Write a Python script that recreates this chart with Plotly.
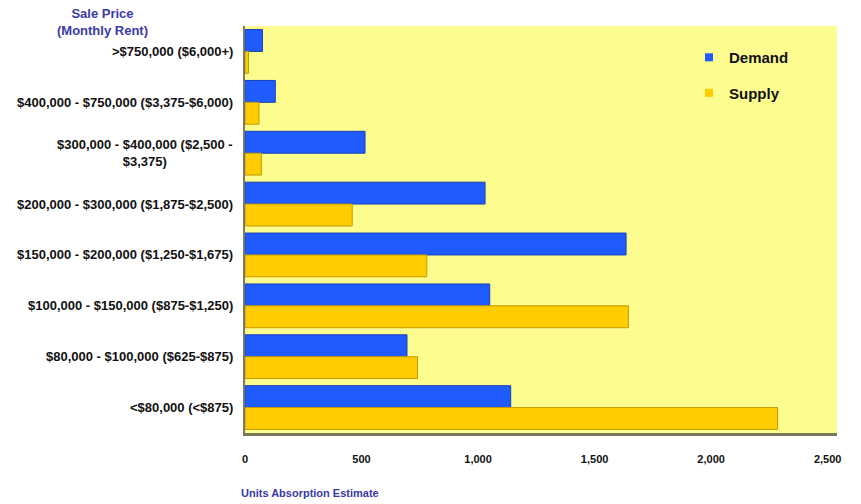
import plotly.graph_objects as go

# Price bands, top to bottom
categories = [
    ">$750,000 ($6,000+)",
    "$400,000 - $750,000 ($3,375-$6,000)",
    "$300,000 - $400,000 ($2,500 -<br>$3,375)",
    "$200,000 - $300,000 ($1,875-$2,500)",
    "$150,000 - $200,000 ($1,250-$1,675)",
    "$100,000 - $150,000 ($875-$1,250)",
    "$80,000 - $100,000 ($625-$875)",
    "<$80,000 (<$875)",
]
demand = [75, 130, 515, 1030, 1635, 1050, 695, 1140]
supply = [15, 60, 70, 460, 780, 1645, 740, 2285]
x_ticks = [0, 500, 1000, 1500, 2000, 2500]
x_tick_labels = ["0", "500", "1,000", "1,500", "2,000", "2,500"]

font_family = "Liberation Sans, Arial, sans-serif"
title_color = "#3a3aa8"
blue, blue_edge = "#1f5bff", "#1440b8"
gold, gold_edge = "#ffcc00", "#c49a00"

fig = go.Figure()
fig.add_trace(go.Bar(
    y=categories, x=demand, orientation="h", name="Demand", showlegend=False,
    marker=dict(color=blue, line=dict(color=blue_edge, width=1)),
))
fig.add_trace(go.Bar(
    y=categories, x=supply, orientation="h", name="Supply", showlegend=False,
    marker=dict(color=gold, line=dict(color=gold_edge, width=1)),
))
# Legend entries with small square swatches
for name, col, grp in [("Demand", blue, "d"), ("Supply", gold, "s")]:
    fig.add_trace(go.Scatter(
        x=[None], y=[None], mode="markers", name=f"<b>{name}</b>", legendgroup=grp,
        marker=dict(symbol="square", size=8, color=col),
    ))

# Category labels, centred per line to the left of the plot
annotations = [
    dict(x=0, y=c, xref="paper", yref="y", text=f"<b>{c}</b>", showarrow=False,
         xanchor="right", xshift=-10, align="center",
         font=dict(family=font_family, size=13, color="#111111"))
    for c in categories
]
annotations.append(dict(
    x=(102 - 245) / 592, y=(433 - 22) / 407, xref="paper", yref="paper",
    text="<b>Sale Price<br>(Monthly Rent)</b>", showarrow=False, align="center",
    xanchor="center", yanchor="middle",
    font=dict(family=font_family, size=13, color=title_color),
))
annotations.append(dict(
    x=(239 - 245) / 592, y=(433 - 493) / 407, xref="paper", yref="paper",
    text="<b>Units Absorption Estimate</b>", showarrow=False,
    xanchor="left", yanchor="middle",
    font=dict(family=font_family, size=11, color=title_color),
))

fig.update_layout(
    width=861, height=504,
    margin=dict(l=245, r=24, t=26, b=71),
    paper_bgcolor="white",
    plot_bgcolor="#fdfc8f",
    barmode="group",
    bargap=0.14,
    bargroupgap=0.0,
    annotations=annotations,
    font=dict(family=font_family, size=11, color="#111111"),
    legend=dict(
        x=(689 - 245) / 592, y=0.963, xanchor="left", yanchor="top",
        bgcolor="rgba(0,0,0,0)", tracegroupgap=13, itemwidth=30,
        font=dict(family=font_family, size=15, color="#111111"),
    ),
    xaxis=dict(
        range=[0, 2540], tickvals=x_ticks, ticktext=[f"<b>{t}</b>" for t in x_tick_labels],
        showgrid=False, zeroline=False, showline=True, linecolor="#77775a",
        linewidth=3, ticks="", ticklabelstandoff=14,
        tickfont=dict(family=font_family, size=11, color="#111111"),
    ),
    yaxis=dict(
        autorange="reversed", showticklabels=False, showgrid=False,
        zeroline=False, showline=True, linecolor="#7a7a6a", linewidth=2,
        ticks="",
    ),
)

fig.write_html("out.html")
